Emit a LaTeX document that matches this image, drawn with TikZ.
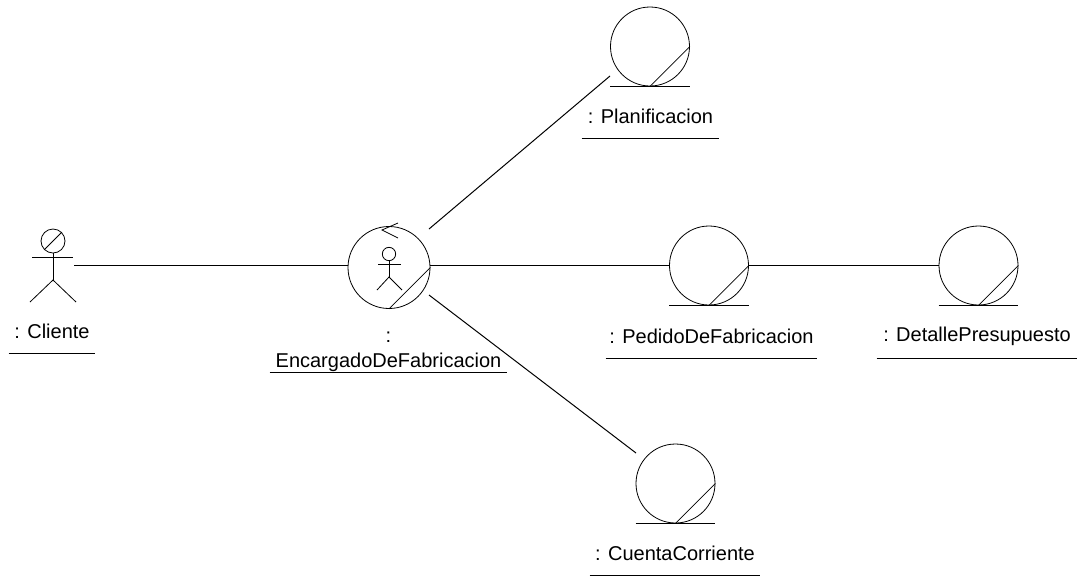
\documentclass[tikz,border=0pt]{standalone}
\usepackage{fontspec}
\setmainfont{Liberation Sans}
\usetikzlibrary{calc}
\tikzstyle{entity} = [circle, draw, minimum size=59.25pt, inner sep=0pt]
\tikzstyle{control} = [circle, draw, minimum size=61.5pt, inner sep=0pt]
\tikzstyle{objname} = [inner sep=0pt, minimum height=33pt, font=\fontsize{15pt}{18.75pt}\selectfont, align=center]
\tikzstyle{link} = [line width=0.75pt]
\tikzstyle{thin line} = [line width=0.6pt]
\newcommand{\entitymarks}[1]{
    \draw [thin line] (#1.south) -- (#1.east);
    \draw [thin line] (#1.west |- #1.south) -- (#1.east |- #1.south);
}
\newcommand{\underlinename}[1]{
    \draw [thin line] (#1.south west) -- (#1.south east);
}
\begin{document}
\begin{tikzpicture}[x=0.75pt, y=-0.75pt]
    \useasboundingbox (0,0) rectangle (1084,576);

    % Actor
    \node (clientehead) [circle, draw, thin line, minimum size=18pt, inner sep=0pt] at (53,241) {};
    \draw [thin line] (clientehead.225) -- (clientehead.45);
    \coordinate (clientehip) at (53,280);
    \draw [thin line] (clientehead.south) -- (clientehip);
    \draw [thin line] (32,257) -- (73,257);
    \draw [thin line] (30,302) -- (clientehip) -- (76,302);
    \coordinate (clienteport) at (74,265.5);
    \node (clientename) [objname, minimum width=64.5pt] at (52,331) {: Cliente};
    \underlinename{clientename}

    % Control object
    \node (encargado) [control, thin line] at (389,267.5) {};
    \draw [thin line] (encargado.south) -- (encargado.east);
    \draw [thin line] (398,223) -- (382,230) -- (398,238);
    \node (encargadohead) [circle, draw, thin line, minimum size=10pt, inner sep=0pt] at (389,254) {};
    \coordinate (encargadohip) at (389,277);
    \draw [thin line] (encargadohead.south) -- (encargadohip);
    \draw [thin line] (378,264) -- (401,264);
    \draw [thin line] (377,290) -- (encargadohip) -- (402,290);
    \node (encargadoname) [objname, minimum height=0pt, minimum width=177.75pt, anchor=south] at (388.5,372) {:\\EncargadoDeFabricacion};
    \underlinename{encargadoname}
    \coordinate (encargadoup) at (429,229);
    \coordinate (encargadodown) at (429,295);

    % Entity objects
    \node (planificacion) [entity, thin line] at (650,46.5) {};
    \entitymarks{planificacion}
    \node (planificacionname) [objname, minimum width=102.75pt] at (650.5,116) {: Planificacion};
    \underlinename{planificacionname}
    \coordinate (planificacionport) at (610,76);

    \node (pedido) [entity, thin line] at (709,265.5) {};
    \entitymarks{pedido}
    \node (pedidoname) [objname, minimum width=158.25pt] at (711.5,336) {: PedidoDeFabricacion};
    \underlinename{pedidoname}

    \node (detalle) [entity, thin line] at (978.5,265.5) {};
    \entitymarks{detalle}
    \node (detallename) [objname, minimum width=150pt] at (977,336) {: DetallePresupuesto};
    \underlinename{detallename}

    \node (cuenta) [entity, thin line] at (675.5,483.5) {};
    \entitymarks{cuenta}
    \node (cuentaname) [objname, minimum width=127.5pt] at (675,553) {: CuentaCorriente};
    \underlinename{cuentaname}
    \coordinate (cuentaport) at (636,453);

    % Links
    \draw [link] (clienteport) -- (encargado.west |- clienteport);
    \draw [link] (encargado.east |- pedido.west) -- (pedido.west);
    \draw [link] (pedido.east) -- (detalle.west);
    \draw [link] (encargadoup) -- (planificacionport);
    \draw [link] (encargadodown) -- (cuentaport);
\end{tikzpicture}
\end{document}
